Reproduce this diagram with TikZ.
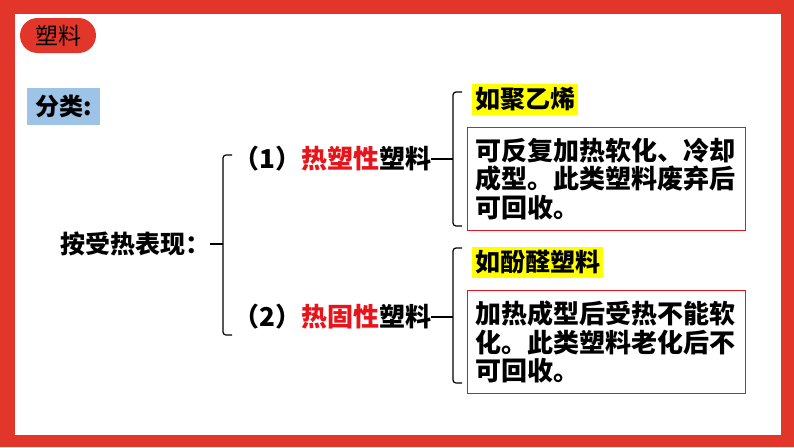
\documentclass[tikz,border=0pt]{standalone}
\usepackage{fontspec}
\newfontfamily\cjk{Noto Sans CJK SC}[BoldFont={Noto Sans CJK SC Black}]
\definecolor{framered}{HTML}{E2362A}
\definecolor{tagblue}{HTML}{9DC3E6}
\definecolor{marker}{HTML}{FFFF00}
\definecolor{keyred}{HTML}{E8141C}
\tikzset{
  word/.style={inner sep=0pt, anchor=west, font=\cjk\bfseries\fontsize{26}{28.5}\selectfont},
  example/.style={fill=marker, inner xsep=3pt, minimum height=31pt, anchor=west, font=\cjk\bfseries\fontsize{25}{25}\selectfont},
  notebox/.style={draw=keyred, line width=1.2pt, anchor=north west, minimum width=278pt, minimum height=103pt,
    text width=262pt, inner xsep=8pt, align=left, font=\cjk\bfseries\fontsize{26}{28.5}\selectfont},
  brace/.style={line width=1.2pt, rounded corners=3pt}
}
\begin{document}
\begin{tikzpicture}[x=1pt,y=-1pt]
        \useasboundingbox (0,0) rectangle (794,447);
        \fill[framered] (0,0) rectangle (794,447);
        \fill[white] (15,14) rectangle (781,435);

        \node[fill=framered, rounded corners=17.5pt, minimum width=76pt, minimum height=35pt, inner sep=0pt,
              font=\cjk\fontsize{23}{23}\selectfont] (title) at (58,35.5) {塑料};
        \node[fill=tagblue, minimum width=73pt, minimum height=37pt, inner sep=0pt,
              font=\cjk\bfseries\fontsize{24}{24}\selectfont] (sort) at (63.5,106.5) {分类:};

        \node[word, font=\cjk\bfseries\fontsize{25}{25}\selectfont] (show) at (60,244) {按受热表现：};
        \node[word] (t1) at (233,159) {（1）\textcolor{keyred}{热塑性}塑料};
        \node[word] (t2) at (233,317) {（2）\textcolor{keyred}{热固性}塑料};

        \coordinate (b1) at (223,244);
        \coordinate (b2) at (453,159);
        \coordinate (b3) at (453,317);
        \draw[brace] (show.east) -- (b1);
        \draw[brace] (232,155) -- (223,155) -- (223,335) -- (232,335);
        \draw[brace] (t1.east) -- (b2);
        \draw[brace] (462,92) -- (453,92) -- (453,226) -- (462,226);
        \draw[brace] (t2.east) -- (b3);
        \draw[brace] (462,248) -- (453,248) -- (453,383) -- (462,383);

        \node[example] (e1) at (472,99) {如聚乙烯};
        \node[example] (e2) at (472,262.5) {如酚醛塑料};

        \node[notebox] (n1) at (467,127) {可反复加热软化、冷却\\成型。此类塑料废弃后\\可回收。};
        \node[notebox] (n2) at (467,290) {加热成型后受热不能软\\化。此类塑料老化后不\\可回收。};
    \end{tikzpicture}
\end{document}
